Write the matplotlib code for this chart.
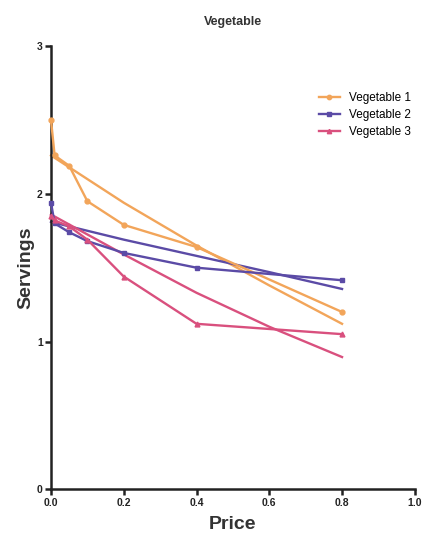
import matplotlib.pyplot as plt

plt.rcParams['font.family'] = ['Liberation Sans', 'DejaVu Sans']

# data
price = [0.0, 0.01, 0.05, 0.1, 0.2, 0.4, 0.8]
veg1 = [2.50, 2.26, 2.19, 1.95, 1.79, 1.64, 1.20]
veg2 = [1.94, 1.80, 1.74, 1.68, 1.60, 1.50, 1.415]
veg3 = [1.85, 1.82, 1.78, 1.69, 1.44, 1.12, 1.05]

# fitted trend lines
fit_x = [0.0, 0.2, 0.4, 0.6, 0.8]
fit1 = [2.26, 1.94, 1.65, 1.38, 1.12]
fit2 = [1.81, 1.69, 1.58, 1.47, 1.356]
fit3 = [1.86, 1.59, 1.33, 1.10, 0.895]

names = ['Vegetable 1', 'Vegetable 2', 'Vegetable 3']
colores = ['#F2A55A', '#5B4BA6', '#D9507E']
marcas = ['o', 's', '^']

fig = plt.figure(figsize=(4.25, 5.37), dpi=100)
ax = fig.add_axes([0.12, 0.089, 0.856, 0.825])

for serie, fit, nombre, c, m in zip([veg1, veg2, veg3], [fit1, fit2, fit3], names, colores, marcas):
    ax.plot(price, serie, color=c, marker=m, markersize=3.5, linewidth=1.7, label=nombre, clip_on=False, zorder=3)
    ax.plot(fit_x, fit, color=c, linewidth=1.7, clip_on=False, zorder=2)

ax.set_xlim(0, 1.0)
ax.set_ylim(0, 3)
ax.set_xticks([0.0, 0.2, 0.4, 0.6, 0.8, 1.0])
ax.set_xticklabels(['0.0', '0.2', '0.4', '0.6', '0.8', '1.0'])
ax.set_yticks([0, 1, 2, 3])

for lado in ['top', 'right']:
    ax.spines[lado].set_visible(False)
for lado in ['left', 'bottom']:
    ax.spines[lado].set_linewidth(1.8)
    ax.spines[lado].set_color('#222222')

ax.tick_params(direction='out', length=4, width=1.8, labelsize=7.5, pad=2, colors='#222222')
for t in ax.get_xticklabels() + ax.get_yticklabels():
    t.set_fontweight('bold')

ax.set_xlabel('Price', fontsize=14, fontweight='bold', color='#333333', labelpad=6)
ax.set_ylabel('Servings', fontsize=14, fontweight='bold', color='#333333', labelpad=2)
ax.set_title('Vegetable', fontsize=9, fontweight='bold', color='#333333', pad=15)

ax.legend(loc='upper right', bbox_to_anchor=(1.02, 0.92), frameon=False, fontsize=8.5, handlelength=1.8, labelspacing=0.4, markerscale=0.9)

plt.savefig('out.png', dpi=100)
